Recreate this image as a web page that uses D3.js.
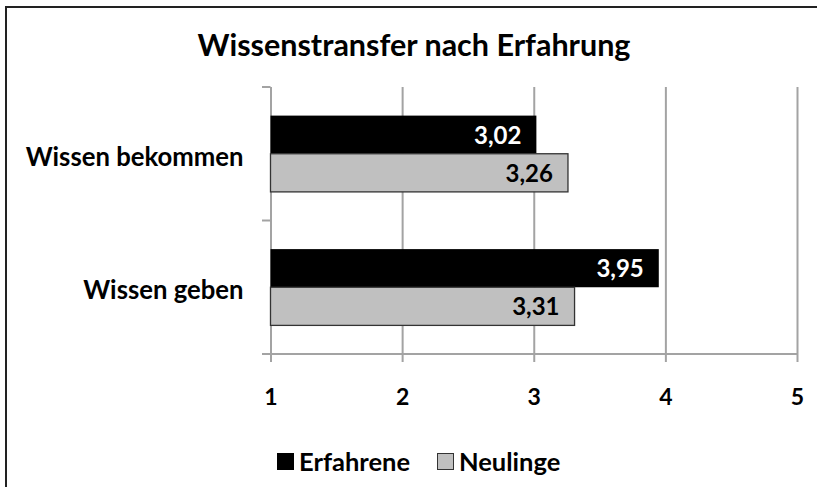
<!DOCTYPE html>
<html><head><meta charset="utf-8">
<script src="https://cdn.jsdelivr.net/npm/d3@7"></script>
<style>
html,body{margin:0;padding:0;background:#fff;}
svg{display:block;}
text{font-family:Lato,"Open Sans",sans-serif;font-weight:bold;fill:#000;}
</style></head>
<body>
<svg id="chart" width="817" height="487"></svg>
<script>
const title = "Wissenstransfer nach Erfahrung";
const categories = ["Wissen bekommen", "Wissen geben"];
const seriesNames = ["Erfahrene", "Neulinge"];
const erfahrene = [3.02, 3.95];
const neulinge = [3.26, 3.31];
const tickValues = [1, 2, 3, 4, 5];
const tickLabels = ["1", "2", "3", "4", "5"];
const seriesColors = ["#000000", "#c0c0c0"];
const labelColors = ["#ffffff", "#000000"];

const svg = d3.select("#chart");
const W = 817, H = 487;
const plot = {left: 270.5, right: 797, top: 87, bottom: 354};

svg.append("rect").attr("width", W).attr("height", H).attr("fill", "#fff");
// outer frame (left & top visible)
svg.append("path").attr("d", `M6,${H} V7 H${W}`).attr("fill", "none")
  .attr("stroke", "#222").attr("stroke-width", 2);

svg.append("text").attr("x", 414).attr("y", 56).attr("text-anchor", "middle")
  .attr("font-size", 30.5).text(title);

const x = d3.scaleLinear().domain([1, 5]).range([plot.left, plot.right]);
const y = d3.scaleBand().domain(categories).range([plot.top, plot.bottom]).padding(0);
const groupW = y.bandwidth() / 1.75;
const ys = d3.scaleBand().domain(seriesNames)
  .range([(y.bandwidth() - groupW) / 2, (y.bandwidth() + groupW) / 2]).padding(0);

const gridColor = "#a3a3a3";
// gridlines + bottom ticks
const gx = svg.append("g").attr("transform", `translate(0,${plot.bottom})`)
  .call(d3.axisBottom(x).tickValues(tickValues).tickFormat((d, i) => tickLabels[i])
    .tickSizeInner(8).tickSizeOuter(0).tickPadding(27));
gx.select(".domain").remove();
gx.selectAll(".tick line").attr("stroke", gridColor).attr("stroke-width", 2)
  .attr("y1", -(plot.bottom - plot.top)).attr("y2", 8);
gx.selectAll(".tick text").attr("font-size", 23).attr("font-family", "Lato, sans-serif")
  .attr("font-weight", "bold").attr("fill", "#000");

// bottom axis line
svg.append("line").attr("x1", plot.left - 8.5).attr("x2", plot.right)
  .attr("y1", plot.bottom).attr("y2", plot.bottom).attr("stroke", gridColor).attr("stroke-width", 2);
// left axis ticks at category boundaries
const bounds = categories.map(c => y(c)).concat([y(categories[categories.length - 1]) + y.bandwidth()]);
svg.selectAll(".ltick").data(bounds).join("line")
  .attr("x1", plot.left - 8.5).attr("x2", plot.left).attr("y1", d => d).attr("y2", d => d)
  .attr("stroke", gridColor).attr("stroke-width", 2);

// bars
const data = [];
categories.forEach((c, i) => {
  data.push({cat: c, s: 0, v: erfahrene[i]});
  data.push({cat: c, s: 1, v: neulinge[i]});
});
const bars = svg.append("g");
bars.selectAll("rect").data(data).join("rect")
  .attr("x", x(1)).attr("y", d => y(d.cat) + ys(seriesNames[d.s]))
  .attr("width", d => x(d.v) - x(1)).attr("height", ys.bandwidth())
  .attr("fill", d => seriesColors[d.s])
  .attr("stroke", d => d.s === 1 ? "#333" : "none").attr("stroke-width", 1.3);
bars.selectAll("text").data(data).join("text")
  .attr("x", d => x(d.v) - 15).attr("y", d => y(d.cat) + ys(seriesNames[d.s]) + ys.bandwidth() / 2 + 9)
  .attr("text-anchor", "end").attr("font-size", 24)
  .style("fill", d => labelColors[d.s])
  .text(d => d.v.toFixed(2).replace(".", ","));

// category labels
svg.selectAll(".cat").data(categories).join("text")
  .attr("x", plot.left - 27).attr("y", d => y(d) + y.bandwidth() / 2 + 12)
  .attr("text-anchor", "end").attr("font-size", 25.7).text(d => d);

// legend
const legX = [277, 437];
const lg = svg.append("g");
seriesNames.forEach((s, i) => {
  lg.append("rect").attr("x", legX[i] + 0.5).attr("y", 453.5).attr("width", 16).attr("height", 16)
    .attr("fill", seriesColors[i]).attr("stroke", i === 1 ? "#333" : "#000").attr("stroke-width", 1);
  lg.append("text").attr("x", legX[i] + 22).attr("y", 470.5).attr("font-size", 25.5).text(s);
});
</script>
</body></html>
